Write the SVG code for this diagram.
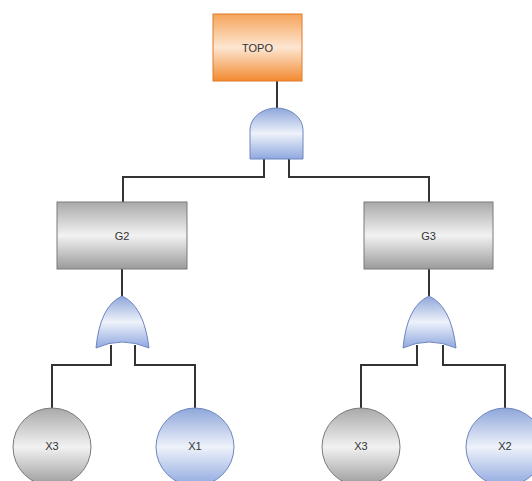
<svg xmlns="http://www.w3.org/2000/svg" width="532" height="481" viewBox="0 0 532 481">
  <style>
    .wire { fill: none; stroke: #333333; stroke-width: 2; }
    .label { font-family: "Liberation Sans", Arial, sans-serif; font-size: 11px; fill: #333333; text-anchor: middle; dominant-baseline: central; }
    .event { fill: url(#gradOrange); stroke: #e07a2a; stroke-width: 1; }
    .box { fill: url(#gradGray); stroke: #7a7a7a; stroke-width: 1; }
    .gate { fill: url(#gradBlue); stroke: #6e86bf; stroke-width: 1; }
    .basicGray { fill: url(#gradGray); stroke: #7a7a7a; stroke-width: 1; }
    .basicBlue { fill: url(#gradBlue); stroke: #6e86bf; stroke-width: 1; }
  </style>
  <defs>
    <linearGradient id="gradOrange" x1="0" y1="0" x2="0" y2="1">
      <stop offset="0" stop-color="#f5a45a"/>
      <stop offset="0.5" stop-color="#fde6d2"/>
      <stop offset="1" stop-color="#f28a30"/>
    </linearGradient>
    <linearGradient id="gradGray" x1="0" y1="0" x2="0" y2="1">
      <stop offset="0" stop-color="#a9a9a9"/>
      <stop offset="0.5" stop-color="#f2f2f2"/>
      <stop offset="1" stop-color="#9a9a9a"/>
    </linearGradient>
    <linearGradient id="gradBlue" x1="0" y1="0" x2="0" y2="1">
      <stop offset="0" stop-color="#8ea6da"/>
      <stop offset="0.5" stop-color="#eef2fa"/>
      <stop offset="1" stop-color="#8fa8e0"/>
    </linearGradient>
  </defs>

  <rect width="532" height="481" fill="#ffffff"/>

  <!-- wiring between events and gates -->
  <g id="connectors">
    <path class="wire" d="M277,81 V108"/>
    <path class="wire" d="M264,159 V177 H123 V202"/>
    <path class="wire" d="M289,159 V177 H429 V202"/>
    <path class="wire" d="M122,269 V296"/>
    <path class="wire" d="M429,269 V296"/>
    <path class="wire" d="M111,345 V365 H52 V408"/>
    <path class="wire" d="M135,345 V365 H195 V408"/>
    <path class="wire" d="M417,345 V365 H361 V408"/>
    <path class="wire" d="M443,345 V365 H505 V408"/>
  </g>

  <g id="TOPO">
    <rect class="event" x="213" y="14" width="89" height="67"/>
    <text class="label" x="257.5" y="47.5">TOPO</text>
  </g>

  <g id="AND1">
    <path class="gate" d="M250,159 V130 A26.5,22 0 0 1 303,130 V159 Z"/>
  </g>

  <g id="G2">
    <rect class="box" x="57" y="202" width="130" height="67"/>
    <text class="label" x="122" y="235.5">G2</text>
  </g>

  <g id="G3">
    <rect class="box" x="364" y="202" width="129" height="67"/>
    <text class="label" x="428.5" y="235.5">G3</text>
  </g>

  <g id="OR1">
    <path class="gate" d="M122,296 Q144,306 149,348 Q122,336 96,348 Q100,306 122,296 Z"/>
  </g>

  <g id="OR2">
    <path class="gate" d="M429,296 Q451,306 456,348 Q429,336 403,348 Q407,306 429,296 Z"/>
  </g>

  <g id="X3a">
    <circle class="basicGray" cx="52" cy="447" r="39"/>
    <text class="label" x="52" y="446">X3</text>
  </g>

  <g id="X1">
    <circle class="basicBlue" cx="195" cy="447" r="39"/>
    <text class="label" x="195" y="446">X1</text>
  </g>

  <g id="X3b">
    <circle class="basicGray" cx="361" cy="447" r="39"/>
    <text class="label" x="361" y="446">X3</text>
  </g>

  <g id="X2">
    <circle class="basicBlue" cx="505" cy="447" r="39"/>
    <text class="label" x="505" y="446">X2</text>
  </g>
</svg>
